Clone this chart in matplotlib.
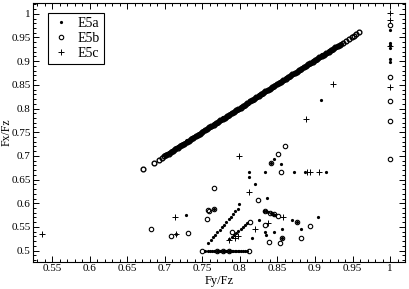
import matplotlib
matplotlib.use("Agg")
import matplotlib.pyplot as plt
from matplotlib.ticker import MultipleLocator

plt.rcParams["font.family"] = ["Liberation Serif", "DejaVu Serif"]

# diagonal band (Fy/Fz, Fx/Fz), mostly E5b circles
band_b_fy = [0.671, 0.685, 0.692, 0.696, 0.699, 0.702, 0.705, 0.708, 0.711, 0.714,
             0.717, 0.720, 0.723, 0.726, 0.729, 0.732, 0.735, 0.738, 0.741, 0.744,
             0.747, 0.750, 0.753, 0.756, 0.759, 0.762, 0.765, 0.768, 0.771, 0.774,
             0.777, 0.780, 0.783, 0.786, 0.789, 0.792, 0.795, 0.798, 0.801, 0.804,
             0.807, 0.810, 0.813, 0.816, 0.819, 0.822, 0.825, 0.828, 0.831, 0.834,
             0.837, 0.840, 0.843, 0.846, 0.849, 0.852, 0.855, 0.858, 0.861, 0.864,
             0.867, 0.870, 0.873, 0.876, 0.879, 0.882, 0.885, 0.888, 0.891, 0.894,
             0.897, 0.900, 0.903, 0.906, 0.909, 0.912, 0.915, 0.918, 0.921, 0.924,
             0.927, 0.930, 0.933, 0.937, 0.941, 0.945, 0.949, 0.952, 0.955, 0.958]
band_b_fx = [0.672, 0.684, 0.691, 0.695, 0.699, 0.702, 0.705, 0.708, 0.711, 0.714,
             0.717, 0.720, 0.723, 0.726, 0.729, 0.732, 0.735, 0.738, 0.741, 0.744,
             0.747, 0.750, 0.754, 0.757, 0.760, 0.763, 0.766, 0.769, 0.772, 0.775,
             0.778, 0.781, 0.784, 0.787, 0.790, 0.793, 0.796, 0.799, 0.802, 0.805,
             0.808, 0.811, 0.815, 0.818, 0.821, 0.824, 0.827, 0.830, 0.833, 0.836,
             0.839, 0.842, 0.845, 0.848, 0.851, 0.854, 0.857, 0.860, 0.863, 0.866,
             0.869, 0.872, 0.875, 0.878, 0.881, 0.884, 0.887, 0.890, 0.893, 0.896,
             0.899, 0.902, 0.905, 0.908, 0.911, 0.914, 0.917, 0.920, 0.923, 0.926,
             0.929, 0.932, 0.935, 0.939, 0.943, 0.947, 0.951, 0.954, 0.957, 0.961]

# E5a dots along the band
band_a_fy = [0.700, 0.703, 0.706, 0.709, 0.712, 0.715, 0.718, 0.721, 0.724, 0.727,
             0.730, 0.733, 0.736, 0.739, 0.742, 0.745, 0.748, 0.751, 0.754, 0.757,
             0.760, 0.763, 0.766, 0.769, 0.772, 0.775, 0.778, 0.781, 0.784, 0.787,
             0.790, 0.793, 0.796, 0.799, 0.802, 0.805, 0.808, 0.811, 0.814, 0.817,
             0.820, 0.823, 0.826, 0.829, 0.832, 0.835, 0.838, 0.841, 0.844, 0.847,
             0.850, 0.853, 0.856, 0.859, 0.862, 0.865, 0.868, 0.871, 0.874, 0.877,
             0.880, 0.883, 0.886, 0.889, 0.892, 0.895, 0.898, 0.901, 0.904, 0.907,
             0.910, 0.913, 0.916, 0.919, 0.922, 0.925, 0.928, 0.931, 0.934]
band_a_fx = [0.701, 0.704, 0.707, 0.710, 0.713, 0.716, 0.719, 0.722, 0.725, 0.728,
             0.731, 0.734, 0.737, 0.740, 0.743, 0.746, 0.749, 0.752, 0.755, 0.758,
             0.761, 0.764, 0.767, 0.770, 0.773, 0.776, 0.779, 0.782, 0.785, 0.788,
             0.791, 0.794, 0.797, 0.800, 0.803, 0.806, 0.809, 0.812, 0.815, 0.818,
             0.822, 0.825, 0.828, 0.831, 0.834, 0.837, 0.840, 0.843, 0.846, 0.849,
             0.852, 0.855, 0.858, 0.861, 0.864, 0.867, 0.870, 0.873, 0.876, 0.879,
             0.882, 0.885, 0.888, 0.891, 0.894, 0.897, 0.900, 0.903, 0.906, 0.909,
             0.912, 0.915, 0.918, 0.921, 0.924, 0.927, 0.930, 0.933, 0.936]

# E5a scattered dots
e5a_fy = [0.758, 0.761, 0.764, 0.767, 0.770, 0.773, 0.776, 0.779, 0.782, 0.785,
          0.788, 0.791, 0.794, 0.797,
          0.786, 0.789, 0.792, 0.795, 0.798, 0.801, 0.804, 0.807, 0.810,
          0.832, 0.835, 0.838, 0.841, 0.844, 0.847,
          0.753, 0.757, 0.760, 0.763, 0.765, 0.767, 0.769, 0.771, 0.773, 0.775,
          0.777, 0.779, 0.781, 0.783, 0.785, 0.787, 0.789, 0.791, 0.793, 0.795,
          0.797, 0.799, 0.801, 0.804, 0.807, 0.810,
          0.728, 0.715, 0.765, 0.799, 0.820, 0.836, 0.825, 0.833, 0.846, 0.856,
          0.835, 0.816, 0.812, 0.812, 0.833, 0.872, 0.887, 0.914, 0.846, 0.841,
          0.855, 0.908, 0.870, 0.876, 0.904, 0.882, 0.856,
          1.0, 1.0, 1.0, 1.0, 1.0, 1.0]
e5a_fx = [0.517, 0.522, 0.528, 0.533, 0.539, 0.544, 0.550, 0.555, 0.561, 0.566,
          0.572, 0.577, 0.583, 0.588,
          0.525, 0.529, 0.533, 0.538, 0.542, 0.546, 0.550, 0.554, 0.558,
          0.584, 0.583, 0.581, 0.579, 0.577, 0.576,
          0.500, 0.500, 0.500, 0.500, 0.500, 0.500, 0.500, 0.500, 0.500, 0.500,
          0.500, 0.500, 0.500, 0.500, 0.500, 0.500, 0.500, 0.500, 0.500, 0.500,
          0.500, 0.500, 0.500, 0.500, 0.500, 0.500,
          0.575, 0.535, 0.588, 0.598, 0.641, 0.611, 0.565, 0.540, 0.540, 0.545,
          0.532, 0.526, 0.666, 0.656, 0.666, 0.666, 0.666, 0.666, 0.693, 0.684,
          0.683, 0.818, 0.565, 0.561, 0.570, 0.545, 0.527,
          0.966, 0.938, 0.934, 0.927, 0.904, 0.899]

# E5b scattered circles
e5b_fy = [0.682, 0.708, 0.731, 0.757, 0.759, 0.756, 0.766, 0.765, 0.750, 0.790,
          0.813, 0.824, 0.834, 0.839, 0.841, 0.851, 0.860, 0.855, 0.876, 0.893,
          0.882, 0.854, 0.856, 0.812, 0.770, 0.778, 0.786, 0.834, 0.840, 0.846, 0.851,
          1.0, 1.0, 1.0, 1.0, 1.0]
e5b_fx = [0.545, 0.530, 0.537, 0.586, 0.584, 0.566, 0.632, 0.587, 0.500, 0.540,
          0.561, 0.607, 0.554, 0.519, 0.684, 0.703, 0.721, 0.666, 0.561, 0.552,
          0.527, 0.516, 0.527, 0.500, 0.500, 0.500, 0.500, 0.584, 0.580, 0.577, 0.574,
          0.976, 0.866, 0.816, 0.774, 0.693]

# E5c pluses
e5c_fy = [0.536, 0.714, 0.715, 0.785, 0.794, 0.797, 0.799, 0.812, 0.820, 0.838,
          0.858, 0.888, 0.924, 0.890, 0.894, 0.905,
          1.0, 1.0, 1.0, 1.0]
e5c_fx = [0.535, 0.571, 0.535, 0.523, 0.526, 0.530, 0.700, 0.624, 0.546, 0.558,
          0.572, 0.778, 0.852, 0.666, 0.666, 0.666,
          1.001, 0.987, 0.932, 0.845]

fig = plt.figure(figsize=(4.09, 2.89), dpi=100)
ax = fig.add_axes([0.0815, 0.095, 0.909, 0.895])

circ = dict(marker="o", ms=3.2, mfc="none", mec="black", mew=0.8, ls="none")
dot = dict(marker="o", ms=2.3, color="black", mew=0, ls="none")
plus = dict(marker="+", ms=5, color="black", mew=0.7, ls="none")

ax.plot(band_b_fy, band_b_fx, marker="o", ms=3.4, mfc="none", mec="black", mew=1.0, ls="none")
ax.plot(band_a_fy, band_a_fx, marker="o", ms=3.8, color="black", mew=0, ls="none")
ax.plot(e5a_fy, e5a_fx, label="E5a", **dot)
ax.plot(e5b_fy, e5b_fx, label="E5b", **circ)
ax.plot(e5c_fy, e5c_fx, label="E5c", **plus)

ax.set_xlim(0.525, 1.02)
ax.set_ylim(0.477, 1.023)
ax.xaxis.set_minor_locator(MultipleLocator(0.01))
ax.yaxis.set_minor_locator(MultipleLocator(0.01))
xt = [0.55, 0.6, 0.65, 0.7, 0.75, 0.8, 0.85, 0.9, 0.95, 1]
ax.set_xticks(xt, [f"{v:g}" for v in xt])
yt = [0.5, 0.55, 0.6, 0.65, 0.7, 0.75, 0.8, 0.85, 0.9, 0.95, 1]
ax.set_yticks(yt, [f"{v:g}" for v in yt])
ax.tick_params(which="both", direction="in", top=True, right=True, labelsize=8, width=0.7)
ax.tick_params(which="major", length=4.5, pad=2)
ax.tick_params(which="minor", length=2.2)
for s in ax.spines.values():
    s.set_linewidth(0.8)

ax.set_xlabel("Fy/Fz", fontsize=9, labelpad=1)
ax.set_ylabel("Fx/Fz", fontsize=8.5)
ax.yaxis.set_label_coords(-0.055, 0.5)

leg = ax.legend(loc="upper left", bbox_to_anchor=(0.04, 0.962), borderaxespad=0,
                fontsize=10, fancybox=False, framealpha=1, edgecolor="black",
                handlelength=1.2, handletextpad=0.6, labelspacing=0.15,
                borderpad=0.3, markerscale=1.0)
leg.get_frame().set_linewidth(0.8)

fig.savefig("out.png", dpi=100)
